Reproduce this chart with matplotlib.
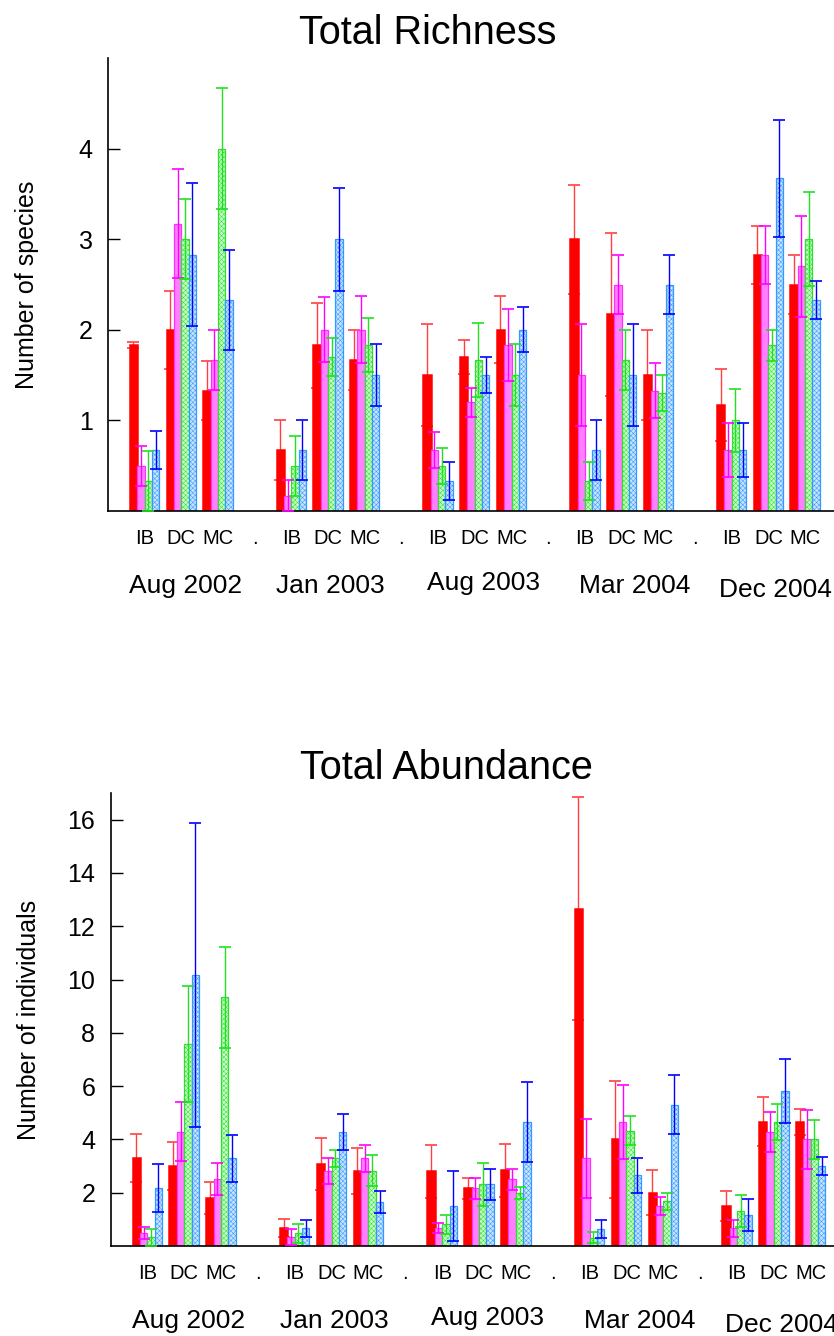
# -----------
# > Imports <
# -----------
import numpy as np
import matplotlib
matplotlib.use("Agg")
import matplotlib.pyplot as plt
from matplotlib.transforms import blended_transform_factory

plt.rcParams["font.family"] = ["Liberation Sans", "DejaVu Sans"]
plt.rcParams["hatch.linewidth"] = 0.35


# --------
# > Data <
# --------
dates = ["Aug 2002", "Jan 2003", "Aug 2003", "Mar 2004", "Dec 2004"]
sites = ["IB", "DC", "MC"]

# one row per series (red, magenta, green, blue); 15 values = 5 dates x 3 sites
richness = [
    [1.83, 2.0, 1.33, 0.67, 1.83, 1.67, 1.5, 1.7, 2.0, 3.0, 2.17, 1.5, 1.17, 2.83, 2.5],
    [0.5, 3.17, 1.67, 0.17, 2.0, 2.0, 0.67, 1.2, 1.83, 1.5, 2.5, 1.33, 0.67, 2.83, 2.7],
    [0.33, 3.0, 4.0, 0.5, 1.7, 1.83, 0.5, 1.67, 1.5, 0.33, 1.67, 1.3, 1.0, 1.83, 3.0],
    [0.67, 2.83, 2.33, 0.67, 3.0, 1.5, 0.33, 1.5, 2.0, 0.67, 1.5, 2.5, 0.67, 3.67, 2.33],
]
richness_err = [
    [0.03, 0.43, 0.33, 0.33, 0.47, 0.33, 0.56, 0.19, 0.37, 0.6, 0.9, 0.5, 0.4, 0.32, 0.33],
    [0.22, 0.6, 0.33, 0.17, 0.36, 0.37, 0.2, 0.16, 0.4, 0.56, 0.33, 0.3, 0.3, 0.32, 0.56],
    [0.33, 0.44, 0.67, 0.33, 0.21, 0.3, 0.2, 0.41, 0.34, 0.21, 0.33, 0.2, 0.35, 0.17, 0.52],
    [0.21, 0.79, 0.55, 0.33, 0.57, 0.34, 0.21, 0.2, 0.25, 0.33, 0.56, 0.33, 0.3, 0.65, 0.21],
]
abundance = [
    [3.29, 3.0, 1.8, 0.67, 3.09, 2.82, 2.8, 2.16, 2.84, 12.66, 4.0, 2.0, 1.5, 4.66, 4.66],
    [0.48, 4.29, 2.5, 0.33, 2.82, 3.29, 0.66, 2.16, 2.5, 3.29, 4.66, 1.5, 0.66, 4.29, 4.0],
    [0.32, 7.58, 9.33, 0.48, 3.29, 2.82, 0.81, 2.31, 2.0, 0.31, 4.33, 1.67, 1.31, 4.66, 4.0],
    [2.16, 10.17, 3.29, 0.66, 4.29, 1.66, 1.49, 2.31, 4.66, 0.64, 2.66, 5.31, 1.15, 5.81, 3.0],
]
abundance_err = [
    [0.9, 0.89, 0.61, 0.33, 0.98, 0.85, 0.99, 0.39, 0.99, 4.19, 2.18, 0.84, 0.56, 0.92, 0.5],
    [0.23, 1.1, 0.6, 0.31, 0.5, 0.5, 0.19, 0.39, 0.38, 1.49, 1.4, 0.33, 0.32, 0.75, 1.1],
    [0.32, 2.18, 1.9, 0.35, 0.33, 0.58, 0.37, 0.82, 0.23, 0.21, 0.54, 0.33, 0.61, 0.67, 0.73],
    [0.9, 5.7, 0.89, 0.32, 0.68, 0.41, 1.31, 0.59, 1.51, 0.34, 0.66, 1.11, 0.6, 1.2, 0.35],
]


# ----------
# > Styles <
# ----------
fills = ["#ff0000", "#ff80ff", "#c8ffc8", "#c8e2ff"]
edges = ["#ff0000", "#ff30ff", "#30dd30", "#3399ff"]
edge_w = [1.8, 0.9, 0.9, 0.9]
hatches = [None, None, "xxxxxxx", "xxxxxxx"]
err_colors = ["#ff4040", "#ff00ff", "#20e020", "#0000ff"]
err_z = [1.5, 3, 3, 3]  # red whiskers sit behind their solid bar
bar_w = 0.2
date_x = [2.13, 6.07, 10.23, 14.35, 18.2]
date_dy = [0, 0, 3, 0, -4]


# ---------------
# > Plot Helper <
# ---------------
def plot_panel(ax, means, errs, title, title_x, ylabel, ylim, yticks):
    x = np.array([4 * g + s + 1 for g in range(len(dates)) for s in range(len(sites))])

    for i in range(len(means)):
        xi = x + (i - 1.5) * bar_w
        ax.bar(xi, means[i], width=bar_w, color=fills[i], edgecolor=edges[i],
               hatch=hatches[i], linewidth=edge_w[i], zorder=2)
        ax.errorbar(xi, means[i], yerr=errs[i], fmt="none", ecolor=err_colors[i],
                    elinewidth=1.0, capsize=4.5, capthick=1.2, zorder=err_z[i])

    ax.set_xlim(0, 20)
    ax.set_ylim(*ylim)
    ax.set_yticks(yticks)
    ax.tick_params(axis="y", direction="in", length=8.5, width=1, labelsize=18, pad=11)

    # site labels with no marks, separators as short inner ticks
    ax.set_xticks(list(x) + [4, 8, 12, 16])
    ax.set_xticklabels(sites * len(dates) + ["."] * 4)
    ax.tick_params(axis="x", length=0, labelsize=14.5, pad=13)
    ax.set_xticks([4, 8, 12, 16, 20], minor=True)
    ax.tick_params(axis="x", which="minor", direction="in", length=7, width=1)

    for side in ["top", "right"]:
        ax.spines[side].set_visible(False)
    for side in ["left", "bottom"]:
        ax.spines[side].set_linewidth(1.2)

    trans = blended_transform_factory(ax.transData, ax.transAxes)
    for d, dx, dy in zip(dates, date_x, date_dy):
        ax.text(dx, -0.165 + dy / 453, d, transform=trans, ha="center", va="center",
                fontsize=19)

    ax.text(title_x, 1.03, title, transform=ax.transAxes, ha="center", va="baseline",
            fontsize=28.5)
    ax.text(-0.11, 0.5, ylabel, transform=ax.transAxes, rotation=90,
            ha="center", va="center", fontsize=18)


# -------------------
# > Build the Chart <
# -------------------
fig = plt.figure(figsize=(8.34, 13.36), dpi=100)
ax_top = fig.add_axes([107.8 / 834, 825 / 1336, 734 / 834, 453 / 1336])
ax_bot = fig.add_axes([110.5 / 834, 90 / 1336, 737 / 834, 453 / 1336])

plot_panel(ax_top, richness, richness_err, "Total Richness", 0.436,
           "Number of species", (0, 5), [1, 2, 3, 4])
plot_panel(ax_bot, abundance, abundance_err, "Total Abundance", 0.456,
           "Number of individuals", (0, 17), [2, 4, 6, 8, 10, 12, 14, 16])

fig.savefig("out.png", dpi=100)
plt.close(fig)
